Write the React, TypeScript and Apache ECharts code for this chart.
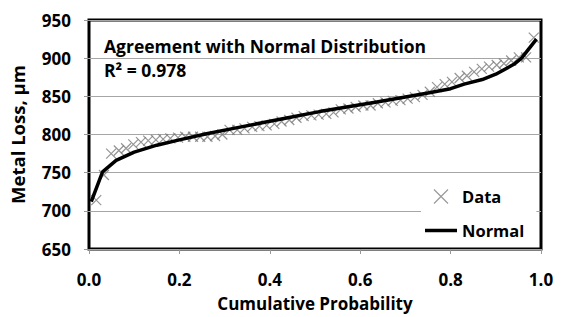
import React, { useEffect, useRef } from "react";
import * as echarts from "echarts";

const dataProb = [
  0.016, 0.033, 0.049, 0.066, 0.082, 0.098, 0.115, 0.131, 0.148, 0.164,
  0.180, 0.197, 0.213, 0.230, 0.246, 0.262, 0.279, 0.295, 0.311, 0.328,
  0.344, 0.361, 0.377, 0.393, 0.410, 0.426, 0.443, 0.459, 0.475, 0.492,
  0.508, 0.525, 0.541, 0.557, 0.574, 0.590, 0.607, 0.623, 0.639, 0.656,
  0.672, 0.689, 0.705, 0.721, 0.738, 0.754, 0.770, 0.787, 0.803, 0.820,
  0.836, 0.852, 0.869, 0.885, 0.902, 0.918, 0.934, 0.951, 0.967, 0.984,
];
const dataLoss = [
  714, 747, 775, 779, 782, 787, 790, 792, 793, 794,
  795, 796, 797, 797, 797, 797, 798, 800, 806, 806,
  808, 810, 811, 812, 814, 817, 819, 822, 824, 825,
  826, 827, 829, 833, 834, 836, 838, 838, 841, 842,
  844, 845, 847, 849, 852, 856, 862, 866, 869, 874,
  877, 882, 886, 889, 891, 893, 897, 901, 901, 927,
];
const normalProb = [
  0.005, 0.03, 0.06, 0.1, 0.15, 0.2, 0.26, 0.32, 0.38, 0.44, 0.51,
  0.57, 0.64, 0.7, 0.756, 0.8, 0.83, 0.87, 0.9, 0.94, 0.957, 0.99,
];
const normalLoss = [
  712, 751, 766, 777, 786, 793, 801, 808, 815, 822, 830,
  836, 843, 849, 855, 860, 866, 872, 879, 892, 900, 925,
];
const xTicks = { min: 0, max: 1, interval: 0.2 };
const yTicks = { min: 650, max: 950, interval: 50 };
const annotation = ["Agreement with Normal Distribution", "R\u00b2 = 0.978"];

const FONT = "Open Sans";

export default function App() {
  const ref = useRef<HTMLDivElement>(null);
  useEffect(() => {
    if (!ref.current) return;
    const chart = echarts.init(ref.current, undefined, { renderer: "svg" });
    const scatterData = dataProb.map((p, i) => [p, dataLoss[i]]);
    const lineData = normalProb.map((p, i) => [p, normalLoss[i]]);
    const bold = { fontFamily: FONT, fontWeight: "bold", color: "#000" };
    chart.setOption({
      animation: false,
      backgroundColor: "#fff",
      textStyle: { fontFamily: FONT },
      grid: {
        left: 86,
        right: 20,
        top: 20,
        bottom: 63,
        show: true,
        borderColor: "#000",
        borderWidth: 3,
        backgroundColor: "transparent",
      },
      xAxis: {
        type: "value",
        ...xTicks,
        name: "Cumulative Probability",
        nameLocation: "middle",
        nameGap: 46,
        nameTextStyle: { ...bold, fontSize: 17 },
        axisLine: { show: false },
        axisTick: { show: true, length: 5, lineStyle: { color: "#999" } },
        axisLabel: {
          ...bold,
          fontSize: 17,
          margin: 22,
          formatter: (v: number) => v.toFixed(1),
        },
        splitLine: { show: false },
      },
      yAxis: {
        type: "value",
        ...yTicks,
        name: "Metal Loss, \u00b5m",
        nameLocation: "middle",
        nameGap: 62,
        nameTextStyle: { ...bold, fontSize: 18.5 },
        axisLine: { show: false },
        axisTick: { show: true, length: 5, lineStyle: { color: "#999" } },
        axisLabel: { ...bold, fontSize: 17, margin: 18 },
        splitLine: { show: true, lineStyle: { color: "#a6a6a6", width: 1 } },
      },
      legend: {
        orient: "vertical",
        left: 421,
        top: 184,
        itemWidth: 32,
        itemHeight: 14,
        itemGap: 17,
        padding: [4, 12, 4, 4],
        backgroundColor: "#fff",
        textStyle: { ...bold, fontSize: 16.5 },
        data: [
          {
            name: "Data",
            icon: "path://M0,0L10,10M0,10L10,0",
            itemStyle: { color: "transparent", borderColor: "#808080", borderWidth: 1.2 },
          },
          {
            name: "Normal",
            icon: "path://M0,0L32,0L32,3.5L0,3.5Z",
            itemStyle: { color: "#000", borderWidth: 0 },
          },
        ],
      },
      graphic: [
        {
          type: "text",
          left: 104,
          top: 37,
          style: { text: annotation[0], ...bold, fill: "#000", fontSize: 17.5 },
        },
        {
          type: "text",
          left: 104,
          top: 61,
          style: { text: annotation[1], ...bold, fill: "#000", fontSize: 17.5 },
        },
      ],
      series: [
        {
          name: "Data",
          type: "scatter",
          data: scatterData,
          symbol: "path://M0,0L10,10M0,10L10,0",
          symbolSize: 10,
          itemStyle: { color: "transparent", borderColor: "#7a7a7a", borderWidth: 1.2 },
          z: 2,
        },
        {
          name: "Normal",
          type: "line",
          data: lineData,
          symbol: "none",
          lineStyle: { color: "#000", width: 3.5 },
          itemStyle: { color: "#000" },
          z: 3,
        },
      ],
    });
    return () => chart.dispose();
  }, []);
  return (
    <div
      ref={ref}
      style={{ position: "fixed", left: 0, top: 0, width: 561, height: 317 }}
    />
  );
}
